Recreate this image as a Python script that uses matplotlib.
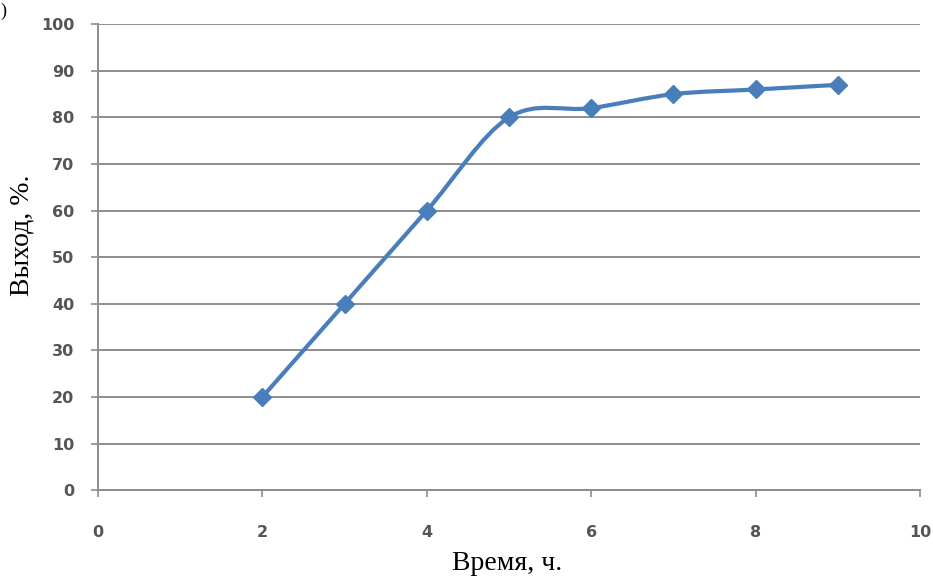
import numpy as np
import matplotlib.pyplot as plt
from matplotlib.path import Path
from matplotlib.patches import PathPatch

# время реакции, ч. и выход продукта, %
hours = [2, 3, 4, 5, 6, 7, 8, 9]
yield_pct = [20, 40, 60, 80, 82, 85, 86, 87]

x_ticks = [0, 2, 4, 6, 8, 10]
y_ticks = [0, 10, 20, 30, 40, 50, 60, 70, 80, 90, 100]

line_color = '#4a7ebb'
grid_color = '#8c8c8c'
tick_color = '#555555'


def smooth_path(xs, ys):
    # сглаженная линия как в Excel: кубические Безье через все точки
    pts = np.column_stack([xs, ys]).astype(float)
    ext = np.vstack([pts[0], pts, pts[-1]])
    verts = [pts[0]]
    codes = [Path.MOVETO]
    for i in range(1, len(ext) - 2):
        p0, p1, p2, p3 = ext[i - 1], ext[i], ext[i + 1], ext[i + 2]
        c1 = p1 + (p2 - p0) / 6.0
        c2 = p2 - (p3 - p1) / 6.0
        verts += [c1, c2, p2]
        codes += [Path.CURVE4] * 3
    return Path(verts, codes)


fig = plt.figure(figsize=(9.33, 5.78), dpi=100)
ax = fig.add_axes([0.105, 0.152, 0.881, 0.806])

ax.set_xlim(0, 10)
ax.set_ylim(0, 100)
ax.set_xticks(x_ticks)
ax.set_yticks(y_ticks)

for v in y_ticks[1:]:
    ax.axhline(v, color=grid_color, lw=1.4, zorder=1)

for s in ['top', 'right']:
    ax.spines[s].set_visible(False)
for s in ['left', 'bottom']:
    ax.spines[s].set_color(grid_color)
    ax.spines[s].set_linewidth(1.4)

ax.tick_params(axis='both', colors=grid_color, width=1.2, length=5,
               labelcolor=tick_color, labelsize=11.5)
ax.tick_params(axis='x', pad=20)
ax.tick_params(axis='y', pad=12)
for lab in ax.get_xticklabels() + ax.get_yticklabels():
    lab.set_fontweight('bold')

ax.add_patch(PathPatch(smooth_path(hours, yield_pct), facecolor='none',
                       edgecolor=line_color, lw=3, zorder=3,
                       capstyle='round', joinstyle='round'))
ax.plot(hours, yield_pct, linestyle='none', marker='D', markersize=9,
        color=line_color, zorder=4)

fig.text(0.544, 0.0138, 'Время, ч.', family='Liberation Serif', fontsize=20,
         ha='center', va='baseline')
fig.text(0.0236, 0.593, 'Выход, %.', family='Liberation Serif', fontsize=20,
         ha='center', va='center', rotation=90)

fig.text(0.0, 0.995, ')', family='Liberation Serif', fontsize=13,
         ha='left', va='top')

fig.savefig('out.png', dpi=100)
